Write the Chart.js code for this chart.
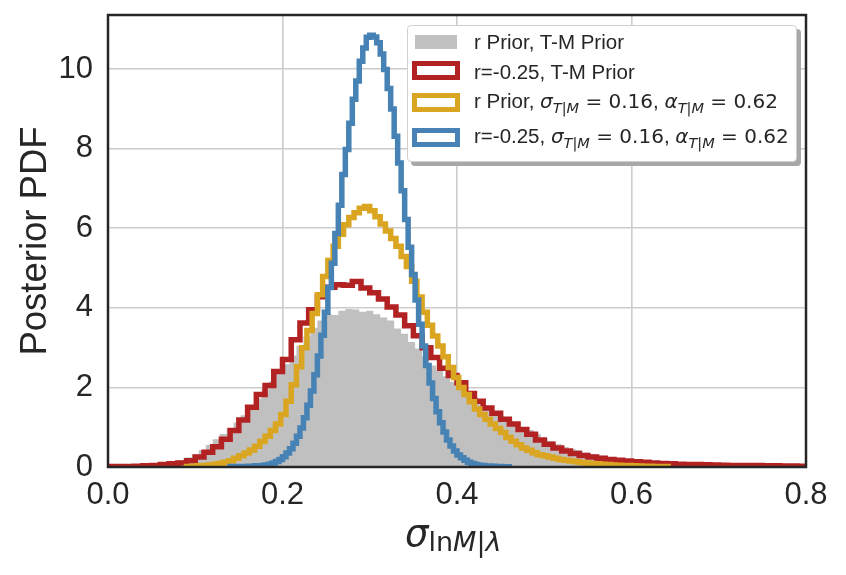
<!DOCTYPE html>
<html>
<head>
<meta charset="utf-8">
<script src="https://cdn.jsdelivr.net/npm/chart.js@4.4.0/dist/chart.umd.min.js"></script>
<style>
  body { margin: 0; background: #fff; }
  #wrap { position: relative; width: 846px; height: 575px; }
  canvas { position: absolute; left: 0; top: 0; }
  .leg { position: absolute; left: 407px; top: 25px; width: 390px; height: 137px; background: #fff;
         border: 1px solid #d0d0d0; border-radius: 4px; box-shadow: 4px 4px 0 #a8a8a8; box-sizing: border-box; }
  .hd { position: absolute; box-sizing: border-box; }
  .row { position: absolute; left: 474px; font: 20.5px "Liberation Sans", Arial, sans-serif; color: #262626;
         line-height: 24px; white-space: nowrap; }
  .mt { font-family: "DejaVu Sans"; font-size: 20px; }
  .it { font-family: "DejaVu Sans"; font-style: italic; font-size: 20px; }
  .sb { font-family: "DejaVu Sans"; font-size: 14.5px; position: relative; top: 5px; }
  .xt { position: absolute; left: 405px; top: 512px; font: 37px "DejaVu Sans"; line-height: 44px; color: #262626; white-space: nowrap; }
  .xs { font-size: 27px; position: relative; top: 5px; }
</style>
</head>
<body>
<div id="wrap">
  <canvas id="chart" width="846" height="575"></canvas>
  <div class="leg"></div>
  <div class="hd" style="left:415px;top:35px;width:42px;height:14px;background:#c0c0c0"></div>
  <div class="hd" style="left:412px;top:61px;width:48px;height:19px;border:5px solid #b22222"></div>
  <div class="hd" style="left:412px;top:93px;width:48px;height:19px;border:5px solid #daa520"></div>
  <div class="hd" style="left:412px;top:128px;width:48px;height:19px;border:5px solid #4682b4"></div>
  <div class="row" style="top:30px">r Prior, T-M Prior</div>
  <div class="row" style="top:60px">r=-0.25, T-M Prior</div>
  <div class="row" style="top:89px">r Prior, <span class="it">σ</span><span class="sb"><i>T</i>|<i>M</i></span><span class="mt"> = 0.16</span>, <span class="it">α</span><span class="sb"><i>T</i>|<i>M</i></span><span class="mt"> = 0.62</span></div>
  <div class="row" style="top:124px">r=-0.25, <span class="it">σ</span><span class="sb"><i>T</i>|<i>M</i></span><span class="mt"> = 0.16</span>, <span class="it">α</span><span class="sb"><i>T</i>|<i>M</i></span><span class="mt"> = 0.62</span></div>
  <div class="xt"><i>σ</i><span class="xs">ln<i>M</i>|<i>λ</i></span></div>
</div>
<script>
// histogram bins: first edge, bin width, densities per bin
var grayStart = 0.0, grayWidth = 0.008;
var grayVals = [0.005, 0.01, 0.01, 0.02, 0.03, 0.04, 0.05, 0.07, 0.09, 0.12,
    0.17, 0.24, 0.32, 0.42, 0.55, 0.70, 0.83, 0.97, 1.12, 1.30,
    1.50, 1.72, 1.95, 2.15, 2.36, 2.58, 2.80, 3.05, 3.28, 3.50,
    3.68, 3.85, 3.82, 3.93, 3.97, 3.96, 3.90, 3.93, 3.84, 3.76,
    3.68, 3.48, 3.35, 3.14, 2.98, 2.78, 2.55, 2.42, 2.28, 2.14,
    2.02, 1.88, 1.75, 1.60, 1.48, 1.37, 1.26, 1.16, 1.08, 1.00,
    0.93, 0.82, 0.73, 0.65, 0.57, 0.50, 0.45, 0.42, 0.36, 0.32,
    0.28, 0.25, 0.22, 0.19, 0.17, 0.15, 0.12, 0.10, 0.08, 0.06,
    0.02, 0.01];

var redStart = 0.0, redWidth = 0.01;
var redVals = [0.01, 0.01, 0.015, 0.02, 0.03, 0.04, 0.06, 0.08, 0.10, 0.16,
    0.25, 0.37, 0.51, 0.70, 0.92, 1.18, 1.50, 1.82, 2.05, 2.40,
    2.70, 3.20, 3.62, 3.95, 4.28, 4.52, 4.58, 4.57, 4.66, 4.50,
    4.38, 4.22, 4.02, 3.82, 3.55, 3.30, 3.00, 2.75, 2.48, 2.30,
    2.12, 1.85, 1.65, 1.48, 1.35, 1.20, 1.08, 0.94, 0.82, 0.68,
    0.57, 0.48, 0.40, 0.34, 0.29, 0.25, 0.22, 0.19, 0.17, 0.15,
    0.13, 0.12, 0.10, 0.09, 0.08, 0.07, 0.065, 0.06, 0.055, 0.05,
    0.045, 0.04, 0.04, 0.035, 0.035, 0.03, 0.03, 0.025, 0.025, 0.02];

var goldStart = 0.09, goldWidth = 0.006;
var goldVals = [0.01, 0.02, 0.03, 0.04, 0.05, 0.07, 0.09, 0.12, 0.16, 0.22,
    0.28, 0.35, 0.43, 0.52, 0.64, 0.77, 0.92, 1.08, 1.32, 1.65,
    2.07, 2.52, 3.00, 3.43, 3.86, 4.33, 4.79, 5.19, 5.55, 5.85,
    6.09, 6.27, 6.39, 6.50, 6.55, 6.44, 6.29, 6.11, 5.93, 5.74,
    5.55, 5.29, 5.04, 4.67, 4.27, 3.89, 3.56, 3.29, 3.04, 2.77,
    2.50, 2.25, 2.00, 1.82, 1.64, 1.46, 1.32, 1.20, 1.08, 0.97,
    0.87, 0.74, 0.65, 0.56, 0.48, 0.42, 0.36, 0.31, 0.28, 0.25,
    0.22, 0.19, 0.17, 0.15, 0.13, 0.11, 0.10, 0.09, 0.08, 0.07,
    0.06, 0.05, 0.045, 0.04, 0.035, 0.03, 0.025, 0.02, 0.018, 0.015,
    0.012, 0.01];

var blueStart = 0.14, blueWidth = 0.004;
var blueVals = [0.01, 0.01, 0.01, 0.01, 0.01, 0.02, 0.02, 0.03, 0.03, 0.04,
    0.05, 0.07, 0.10, 0.14, 0.19, 0.26, 0.35, 0.46, 0.60, 0.77,
    0.98, 1.24, 1.55, 1.91, 2.32, 2.79, 3.31, 3.89, 4.51, 5.12,
    5.87, 6.58, 7.35, 7.98, 8.64, 9.24, 9.70, 10.20, 10.53, 10.80,
    10.85, 10.81, 10.66, 10.38, 9.99, 9.51, 9.00, 8.31, 7.64, 6.94,
    6.22, 5.52, 4.84, 4.20, 3.59, 3.04, 2.55, 2.11, 1.72, 1.39,
    1.11, 0.88, 0.68, 0.53, 0.40, 0.30, 0.23, 0.17, 0.12, 0.09,
    0.06, 0.045, 0.035, 0.028, 0.022, 0.017, 0.013, 0.010, 0.007, 0.005];

var xTicks = [0.0, 0.2, 0.4, 0.6, 0.8];
var yTicks = [0, 2, 4, 6, 8, 10];

// outline of a step histogram, closed down to zero at both ends
function histPoints(start, width, vals) {
    var pts = [{x: start, y: 0}];
    vals.forEach(function(v, i) { pts.push({x: start + i * width, y: v}); });
    pts.push({x: start + vals.length * width, y: 0});
    return pts;
}

var frame = {
    id: 'frame',
    afterDatasetsDraw: function(chart) {
        var a = chart.chartArea, ctx = chart.ctx;
        ctx.save();
        ctx.strokeStyle = '#262626';
        ctx.lineWidth = 2.5;
        ctx.strokeRect(a.left, a.top, a.right - a.left, a.bottom - a.top);
        ctx.restore();
    }
};

var tickFont = {family: 'Liberation Sans', size: 31};

new Chart(document.getElementById('chart'), {
    type: 'line',
    data: {
        datasets: [
            {label: 'r Prior, T-M Prior', data: histPoints(grayStart, grayWidth, grayVals),
             borderWidth: 0, borderColor: 'rgba(0,0,0,0)', backgroundColor: '#c0c0c0', fill: 'origin', order: 4},
            {label: 'r=-0.25, T-M Prior', data: histPoints(redStart, redWidth, redVals),
             borderColor: '#b22222', borderWidth: 5.5, fill: false, order: 3},
            {label: 'r Prior, sigma 0.16, alpha 0.62', data: histPoints(goldStart, goldWidth, goldVals),
             borderColor: '#daa520', borderWidth: 5.5, fill: false, order: 2},
            {label: 'r=-0.25, sigma 0.16, alpha 0.62', data: histPoints(blueStart, blueWidth, blueVals),
             borderColor: '#4682b4', borderWidth: 5.5, fill: false, order: 1}
        ]
    },
    options: {
        responsive: false,
        animation: false,
        datasets: {line: {stepped: true, pointRadius: 0, tension: 0, clip: 0, borderJoinStyle: 'miter'}},
        layout: {padding: {top: 15, right: 40, left: 0, bottom: 0}},
        plugins: {legend: {display: false}, tooltip: {enabled: false}},
        scales: {
            x: {
                type: 'linear', min: 0, max: 0.8,
                afterBuildTicks: function(s) { s.ticks = xTicks.map(function(v) { return {value: v}; }); },
                afterFit: function(s) { s.height = 108; s.paddingLeft = 0; s.paddingRight = 0; },
                ticks: {font: tickFont, color: '#262626', padding: 10, maxRotation: 0,
                        callback: function(v) { return v.toFixed(1); }},
                grid: {color: '#cccccc', lineWidth: 1.6, drawTicks: false},
                border: {display: false}
            },
            y: {
                min: 0, max: 11.36,
                afterBuildTicks: function(s) { s.ticks = yTicks.map(function(v) { return {value: v}; }); },
                afterFit: function(s) { s.width = 108; s.paddingTop = 0; s.paddingBottom = 0; },
                ticks: {font: tickFont, color: '#262626', padding: 15},
                grid: {color: '#cccccc', lineWidth: 1.6, drawTicks: false},
                border: {display: false},
                title: {display: true, text: 'Posterior PDF', color: '#262626',
                        font: {family: 'Liberation Sans', size: 36.5}, padding: {top: 14, bottom: 0}}
            }
        }
    },
    plugins: [frame]
});
</script>
</body>
</html>
